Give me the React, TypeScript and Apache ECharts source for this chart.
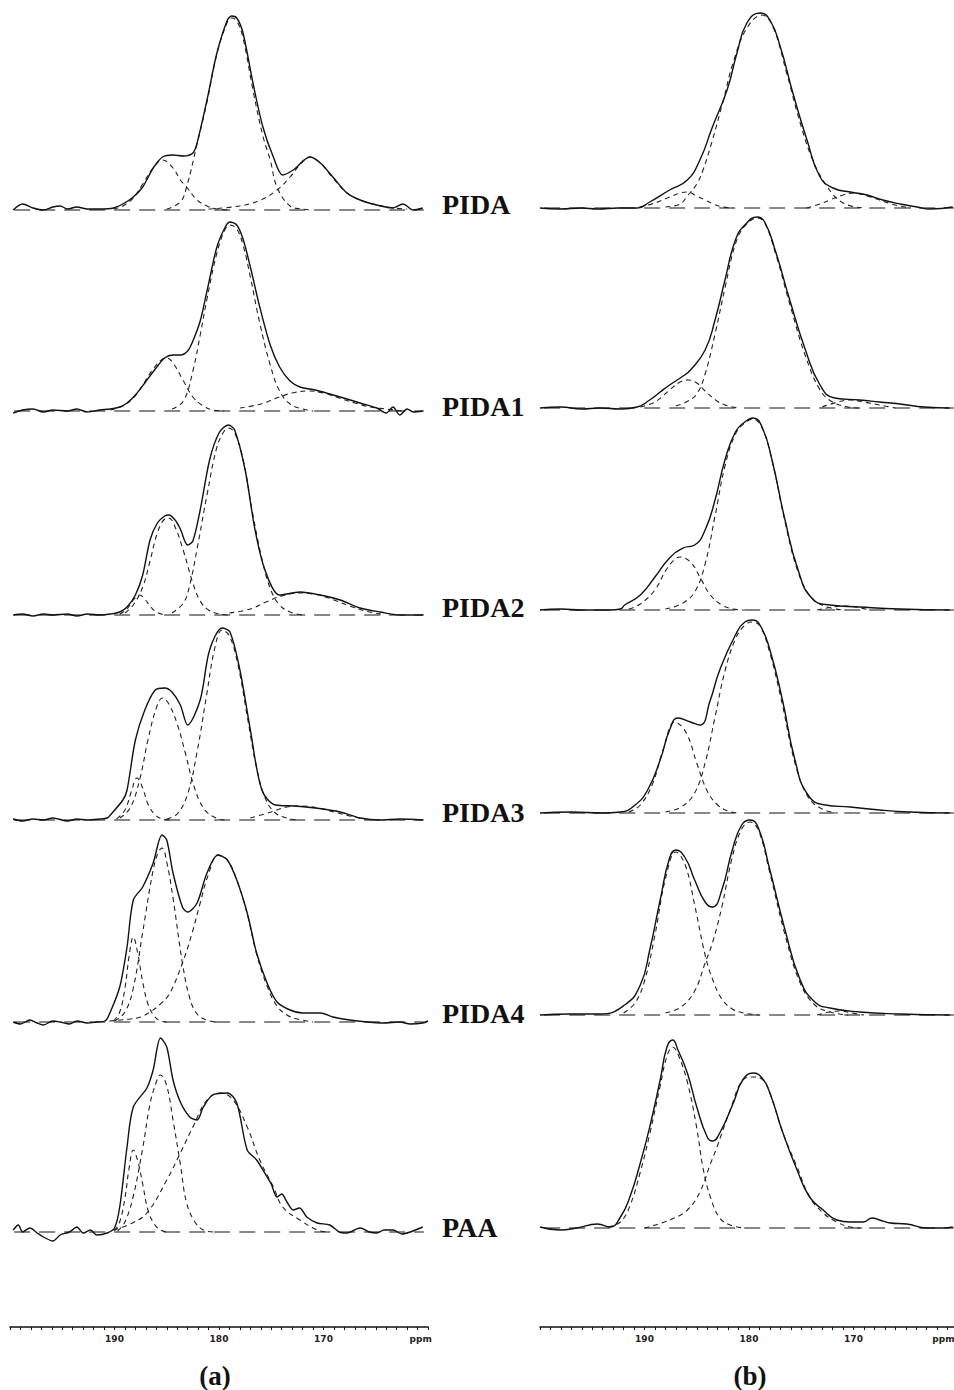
import React, { useEffect, useRef } from "react";
import * as echarts from "echarts";

// ---------- DATA: [ppm, intensity] ----------
const SAMPLE_NAMES = ["PIDA", "PIDA1", "PIDA2", "PIDA3", "PIDA4", "PAA"];
const PANEL_NAMES = ["(a)", "(b)"];
const RULER_LABELS = [190, 180, 170];
const BASELINE = [[199.6, 0], [160.4, 0]];

// ---- column (a) ----
const A_PIDA_EXP = [[199.7,0],[198.8,3],[197.8,1],[196.8,0],[195.9,1.5],[195.2,2],[194.5,0.5],[193.6,1.5],[192.6,0.5],[191.4,0.5],[190.1,1],[189.2,3],[188.2,6.5],[187.3,11.5],[186.3,21],[185.4,26.5],[184.4,27.5],[183.4,27],[182.5,28.5],[182.1,33.5],[181.15,55],[180.2,78.5],[179.2,95],[178.8,97],[178.3,96],[177.7,88.5],[176.75,63.5],[175.8,41.5],[174.8,26.5],[173.9,17.5],[172.9,20],[171.3,26.5],[170.3,23.5],[169.1,16.5],[167.75,8.5],[166.5,5],[164.9,2.5],[163.35,1],[162.4,3],[161.4,0],[160.5,1]];
const A_PIDA_F1 = [[190.1,0.5],[189.2,2],[188.2,6],[187.3,13],[186.3,21],[185.4,25],[184.4,21],[183.7,15],[183.1,11.5],[182.1,5],[181.15,2],[180.2,0.5],[179,0]];
const A_PIDA_F2 = [[185,0.5],[183.7,4],[183.1,11.5],[182.1,33],[181.15,54],[180.2,78],[179.2,94],[178.8,96],[178.3,94.5],[177.7,86],[176.75,60],[175.8,37],[175.1,25],[174.45,11.5],[173.2,2],[172,0.5],[171,0]];
const A_PIDA_F3 = [[181,0.5],[178,2],[176,5],[174.45,10],[173.2,16.5],[172.2,23],[171.3,26.5],[170.3,23.5],[169.1,16],[167.75,8.5],[166.5,5],[164.9,2.5],[163.35,1],[162,0.5]];

const A_PIDA1_EXP = [[199.7,-1],[198.8,0.5],[197.8,1],[196.8,-0.5],[195.9,0.5],[194.5,0],[193.6,1],[192.6,-0.5],[191.4,0.5],[190.4,1],[189.5,2],[188.8,4],[188.0,8],[187.1,14],[186.1,21],[185.2,26.5],[184.4,28],[183.7,28],[183.0,30],[182.5,35],[181.8,45],[181.15,60],[180.2,82],[179.4,92],[178.95,94.5],[178.3,93],[177.7,86],[177.0,72],[176.1,52],[175.1,33],[174.2,22],[173.2,15],[172.25,12],[170.8,10.5],[169.4,8.5],[167.75,6],[166.5,4],[164.9,1.5],[164.0,-1],[163.35,2],[162.7,-2],[162.0,1],[161.4,-0.5],[160.5,0]];
const A_PIDA1_F1 = [[190.4,0.5],[189.2,2.5],[188.2,6.5],[187.3,13],[186.3,21],[185.4,26],[185.0,26.5],[184.4,24],[183.4,15],[182.5,7],[181.5,2.5],[180.6,0.5],[179.5,0]];
const A_PIDA1_F2 = [[184.5,1],[183.4,5],[182.5,20],[181.8,38],[181.15,56],[180.2,79],[179.4,91],[178.95,93],[178.3,91],[177.7,83],[177.0,67],[176.1,44],[175.1,23],[174.2,10],[173.2,3.5],[172,1],[171,0]];
const A_PIDA1_F3 = [[178,1.5],[176,3.5],[174.5,6.5],[173,9],[171.5,10],[170,9],[168.5,6.5],[167,4],[165.5,2],[164,1],[162.5,0]];

const A_PIDA2_EXP = [[199.7,0],[198.8,0.5],[197.8,-0.5],[196.8,0.5],[195.9,0],[194.5,0.5],[193.6,-0.5],[192.6,0.5],[191.4,0],[190.4,0.5],[189.5,1.5],[188.8,4],[188.0,10],[187.3,20],[186.6,37.5],[185.9,46],[185.2,49.5],[184.8,50],[184.2,47.5],[183.7,43],[183.0,35],[182.5,37],[181.8,52.5],[180.9,77.5],[180.0,91],[179.1,95],[178.5,92.5],[177.5,72.5],[176.55,42.5],[175.6,22.5],[174.2,10],[172.25,11.5],[170.3,10],[168.4,7.5],[166.5,3.5],[164.6,1.5],[162.7,0],[160.5,0]];
const A_PIDA2_F0 = [[189.5,0.5],[188.8,3],[188.2,7.5],[187.6,10],[187.1,8],[186.6,4.5],[186.0,1.5],[185.2,0]];
const A_PIDA2_F1 = [[189.0,1],[188.2,5],[187.3,14],[186.6,27],[185.9,41],[185.2,48],[184.8,48.5],[184.2,44],[183.4,32],[182.5,16],[181.8,7],[181.0,2.5],[180,0.5],[179,0]];
const A_PIDA2_F2 = [[184.5,1],[183.4,6],[182.8,15],[182.1,33],[181.15,60],[180.2,84],[179.5,92],[179.1,93.5],[178.5,91],[177.7,78],[176.75,50],[175.8,26],[175.0,12],[174.2,5],[173.2,1.5],[172,0]];
const A_PIDA2_F3 = [[179,1],[177,3],[175.5,6.5],[174,9.5],[172.25,11],[170.5,10],[169,7.5],[167.5,4.5],[166,2],[164.5,0.5]];

const A_PIDA3_EXP = [[199.7,0.5],[198.8,-0.5],[197.8,0.5],[196.8,0],[195.9,1],[194.5,-0.5],[193.6,0.5],[192.6,0],[191.4,0.5],[190.7,1],[190.4,2.5],[189.2,10],[188.8,15],[188.0,40],[187.1,55],[186.1,65],[185.2,66],[184.5,64],[183.7,57.5],[183.0,47.5],[181.8,60],[180.9,85],[179.7,96],[178.95,94],[178.0,75],[177.0,45],[175.9,15],[174.6,7.5],[172.7,7],[170.8,6],[168.4,4],[166.5,1],[164.6,0],[162.7,0.5],[160.5,0]];
const A_PIDA3_F0 = [[189.8,0.5],[189.0,5],[188.4,14],[187.85,21],[187.3,16],[186.8,8],[186.1,2.5],[185.4,0.5],[184.5,0]];
const A_PIDA3_F1 = [[189.5,1],[188.5,6],[187.6,20],[186.8,40],[186.0,56],[185.4,61],[184.8,58],[184.0,48],[183.2,33],[182.4,17],[181.5,6],[180.5,1.5],[179.5,0]];
const A_PIDA3_F2 = [[185,0.5],[184,3],[183,13],[182.1,34],[181.2,62],[180.4,86],[179.7,95],[179.0,92],[178.2,78],[177.3,52],[176.4,26],[175.5,10],[174.6,3.5],[173.5,1],[172.5,0]];
const A_PIDA3_F3 = [[177,1],[175,4],[173.5,6.5],[172,7],[170.5,6],[169,4],[167.5,2],[166,0.5]];

const A_PIDA4_EXP = [[199.7,0],[199.0,-1],[198.1,1],[197.4,-0.5],[196.8,-1.5],[195.9,0.5],[195.2,0],[194.3,-1],[193.6,0.5],[192.6,-0.5],[191.7,0],[190.9,0.5],[190.4,5],[189.5,17.5],[188.8,37.5],[188.2,61],[187.3,67.5],[186.3,79.5],[185.45,93.5],[185.0,91],[184.4,74.5],[183.5,57.5],[183.0,55],[182.1,59.5],[181.15,74.5],[180.1,83.5],[179.2,81],[178.3,71],[177.3,54.5],[176.4,34.5],[175.4,19.5],[174.45,10],[173.2,6],[172.0,4.5],[170.3,4.5],[169.1,2.5],[167.5,1],[165.8,0],[164.3,-0.5],[162.7,0],[161.7,-1],[160.5,-0.5],[160.0,0.5]];
const A_PIDA4_F0 = [[190.1,0.5],[189.5,5],[189.0,17],[188.6,33],[188.2,42.5],[187.8,35],[187.3,20],[186.8,9],[186.2,3],[185.6,0.5],[185,0]];
const A_PIDA4_F1 = [[190.0,0.5],[189.0,5],[188.2,17],[187.3,45],[186.3,76],[185.8,85],[185.45,87],[185.0,80],[184.4,62],[183.5,29.5],[182.8,12],[182.1,4],[181.2,1],[180.3,0]];
const A_PIDA4_F2 = [[190.5,0.5],[188.5,1.5],[187.5,2.5],[186.6,5],[185.6,9],[184.7,14.5],[183.5,29.5],[182.6,44],[181.8,59.5],[181.0,74],[180.1,83.5],[179.2,81],[178.3,71],[177.3,54],[176.4,34],[175.4,18],[174.45,8],[173.5,3.5],[172.5,1.5],[171,0]];

const A_PAA_EXP = [[199.7,1],[199.2,3.5],[198.8,0],[198.1,2],[197.4,-0.5],[196.8,-2.5],[195.9,-4.5],[195.2,-1.5],[194.3,0],[193.6,2.5],[193.0,-0.5],[192.3,1],[191.7,-1.5],[190.7,-0.5],[190.0,2],[189.5,12.5],[188.8,42.5],[188.2,62.5],[186.9,72],[186.3,81],[185.6,97],[185.0,92.5],[184.4,76],[183.7,65],[182.8,57.5],[182.1,56],[181.5,62.5],[180.6,68.5],[179.2,69.5],[178.3,64.5],[177.3,41],[176.4,36],[175.4,27.5],[175.0,24],[174.45,17.5],[174.0,19],[173.5,15],[172.9,11],[172.3,12],[171.6,7.5],[170.6,4.5],[169.4,3.5],[168.5,0],[167.75,-0.5],[166.5,2],[165.6,0],[164.9,-0.5],[164.2,1],[163.35,1],[162.5,-1],[161.7,0],[160.5,2.5]];
const A_PAA_F0 = [[190.0,0.5],[189.5,5],[189.0,17],[188.6,32],[188.2,41],[187.8,36],[187.3,24],[186.8,11],[186.2,4],[185.6,1],[185.0,0]];
const A_PAA_F1 = [[189.7,0.5],[189.0,5],[188.2,18],[187.3,42],[186.6,64],[186.0,75],[185.6,78.5],[185.0,73],[184.4,56],[183.7,34],[183.1,14.5],[182.3,5],[181.5,1],[180.5,0]];
const A_PAA_F2 = [[190.1,1],[188.5,4],[186.9,9.5],[185.0,26],[183.7,39.5],[182.5,52.5],[181.15,66],[179.9,69.5],[178.65,66],[177.3,52.5],[176.1,36],[174.8,22.5],[173.9,12.5],[172.25,6],[170.6,1],[169.5,0]];

// ---- column (b) ----
const B_PIDA_EXP = [[200,0],[198.1,-0.5],[196,0],[194.5,-0.5],[192.5,0],[190.7,0],[189.5,3],[187.6,9],[185.9,14],[184.7,24],[183.5,40.5],[182.1,59],[181.15,77.5],[180.2,92.5],[178.95,97.5],[178.0,94],[177.0,80.5],[175.8,57.5],[174.45,34],[173.2,15.5],[171.95,10],[170.3,8],[168.7,6.5],[167.2,4],[165.55,2],[163.9,0.5],[162.7,-0.5],[160.5,0.5]];
const B_PIDA_F1 = [[190.5,0.5],[189,2.5],[187.6,5.5],[186.6,7.5],[185.9,8],[185.0,6],[184.2,4],[183.4,2],[182.5,0.5],[181.5,0]];
const B_PIDA_F2 = [[188,0.5],[186.6,2],[185.9,6],[185.0,12],[184.4,19],[183.5,34],[182.5,53],[181.5,73],[180.2,90],[178.75,96.5],[177.7,90.5],[176.4,67.5],[175.1,42.5],[173.9,24],[172.5,10.5],[171.0,2.5],[169,0]];
const B_PIDA_F3 = [[174.5,0],[173.2,2],[172.25,4],[171.0,6.5],[170.0,7.5],[168.7,6],[167.5,4],[166,1.5],[164.5,0]];

const B_PIDA1_EXP = [[200,0],[198,0.5],[196,-0.5],[194.3,0],[192.3,-0.5],[190.7,0.5],[189.5,4],[188.5,8],[187.6,11.5],[186.3,16],[185.6,19],[184.2,29],[183.25,44],[182.3,64],[181.3,84],[180.4,91.5],[179.2,95.5],[178.5,93],[177.5,79],[176.1,54],[174.6,29],[173.2,11.5],[171.8,5],[169.4,4],[167.5,3],[165.55,2],[163.2,0.5],[160.8,0]];
const B_PIDA1_F1 = [[190.4,0.5],[189.0,3],[187.6,9],[186.6,13],[185.8,14],[185.0,12.5],[184.2,8.5],[183.2,4],[182.3,1.5],[181,0]];
const B_PIDA1_F2 = [[187,1],[186,3],[185,7],[184.2,17],[183.25,37],[182.3,60],[181.3,82],[180.4,91],[179.2,95],[178.5,92.5],[177.5,78],[176.1,52],[174.6,26],[173.2,9],[172,3],[170.5,0.5],[169.5,0]];
const B_PIDA1_F3 = [[173,0.5],[171.5,3],[170.3,4],[169,3],[167.5,1.5],[166,0]];

const B_PIDA2_EXP = [[200,0],[198,0.5],[196,0],[194.3,0],[193.3,0],[192.3,0.5],[191.9,2.5],[190.4,7.5],[189.0,16.5],[187.6,26],[186.3,31],[185.2,32.5],[184.2,40],[183.25,55],[182.3,75],[181.3,89],[180.4,94],[179.6,96],[178.75,91.5],[177.8,75],[176.55,45],[175.3,20],[174.0,6],[172.25,2.5],[169.4,1.5],[165.55,0.5],[160.8,0]];
const B_PIDA2_F1 = [[191.5,0.5],[190.4,3],[189.0,10],[187.8,21],[186.6,26.5],[185.6,24],[184.7,16.5],[183.7,7.5],[182.6,2.5],[181.5,0.5],[180.5,0]];
const B_PIDA2_F2 = [[188,0.5],[186.5,3],[185.2,9],[184.2,23],[183.25,47],[182.3,72],[181.3,88],[180.4,93.5],[179.6,95.5],[178.75,91],[177.8,75],[176.55,44],[175.3,19],[174.0,6],[172.5,1.5],[171,0]];
const B_PIDA2_F3 = [[173.5,0],[172,1.5],[171,2],[169.8,1.5],[168.5,0]];

const B_PIDA3_EXP = [[200,0],[197,0.5],[194,0],[192.3,0.5],[190.9,4],[189.7,11.5],[188.5,26.5],[187.6,41.5],[186.8,47.5],[185.6,45.5],[184.7,44],[183.7,56.5],[182.8,71.5],[181.3,89],[180.4,95.5],[179.7,96.5],[178.95,94],[178.0,81.5],[176.8,56.5],[175.6,26.5],[174.35,9],[172.7,4],[170.3,3],[167.5,1.5],[164.6,0.5],[160.8,0]];
const B_PIDA3_F1 = [[191.5,0.5],[190.4,4],[189.2,15],[188.2,32],[187.1,45.5],[186.0,40],[185.0,25],[184.0,11],[183.0,4],[182,1],[181,0]];
const B_PIDA3_F2 = [[188,0.5],[186.5,3],[185.2,10],[184.2,25],[183.25,48],[182.3,71],[181.3,87],[180.4,94],[179.7,95.5],[178.95,93.5],[178.0,80],[176.8,54],[175.6,25],[174.35,8],[173,2],[171.5,0]];

const B_PIDA4_EXP = [[200,0],[197,0.5],[194.3,0.5],[191.9,5],[190.4,15],[189.5,32.5],[188.5,57.5],[187.6,78.5],[187.0,82.5],[186.1,78.5],[185.2,67.5],[184.2,56.5],[183.5,54],[182.6,62.5],[181.6,82.5],[180.7,95],[179.9,97.5],[179.1,93.5],[178.0,72.5],[176.55,42.5],[175.1,17.5],[173.7,6.5],[172.25,3.5],[169.4,1.5],[165.55,0.5],[160.8,0]];
const B_PIDA4_F1 = [[192,1],[190.9,6],[190.0,17],[189.0,40],[188.0,68],[187.0,81.5],[186.1,75],[185.2,55],[184.2,30],[183.5,18],[182.6,8],[181.6,3],[180.5,1],[179,0]];
const B_PIDA4_F2 = [[188,1],[186.5,4],[185.2,12],[184.2,26],[183.5,36],[182.6,54],[181.6,79],[180.7,93],[179.9,96.5],[179.1,92.5],[178.0,71],[176.55,40],[175.1,16],[173.7,5],[172.25,1.5],[170.5,0]];
const B_PIDA4_F3 = [[173.5,0],[172.3,1.5],[171.3,2],[170.2,1],[169,0]];

const B_PAA_EXP = [[200,0.5],[198.1,-1],[196.5,0],[194.5,2],[193.3,0.5],[192.3,5.5],[191.4,15.5],[190.4,32.5],[189.5,50.5],[188.5,74],[187.85,90.5],[187.3,94],[186.8,89],[185.9,77.5],[185.0,60.5],[184.0,45.5],[183.5,43.5],[182.8,47.5],[181.5,62.5],[180.6,74],[179.6,77.5],[178.75,75],[178.0,67.5],[176.75,47.5],[175.4,29],[174.2,15.5],[172.9,9],[171.6,4],[170.3,3],[169.1,3],[168.2,5],[167.5,4],[166.5,2.5],[164.9,2],[163.0,0],[161.4,0],[160.5,0.5]];
const B_PAA_F1 = [[193.5,0.5],[192.3,3],[191.4,11],[190.4,28],[189.5,47],[188.5,71],[187.85,86],[187.3,90.5],[186.8,87],[185.9,73],[185.0,50],[184.4,30],[183.7,15.5],[182.8,5],[181.8,1.5],[180.5,0]];
const B_PAA_F2 = [[190,0],[187.6,4],[185.9,9],[184.7,18],[183.7,32],[183.1,40],[181.8,59],[180.6,74],[179.6,75.5],[178.65,74],[178.0,67.5],[176.75,47.5],[175.4,30.5],[174.2,15.5],[172.9,7.5],[171.6,3],[170.3,0.5],[169,0]];

const A_SPECTRA = [
  { exp: A_PIDA_EXP, fits: [A_PIDA_F1, A_PIDA_F2, A_PIDA_F3] },
  { exp: A_PIDA1_EXP, fits: [A_PIDA1_F1, A_PIDA1_F2, A_PIDA1_F3] },
  { exp: A_PIDA2_EXP, fits: [A_PIDA2_F0, A_PIDA2_F1, A_PIDA2_F2, A_PIDA2_F3] },
  { exp: A_PIDA3_EXP, fits: [A_PIDA3_F0, A_PIDA3_F1, A_PIDA3_F2, A_PIDA3_F3] },
  { exp: A_PIDA4_EXP, fits: [A_PIDA4_F0, A_PIDA4_F1, A_PIDA4_F2] },
  { exp: A_PAA_EXP, fits: [A_PAA_F0, A_PAA_F1, A_PAA_F2] },
];
const B_SPECTRA = [
  { exp: B_PIDA_EXP, fits: [B_PIDA_F1, B_PIDA_F2, B_PIDA_F3] },
  { exp: B_PIDA1_EXP, fits: [B_PIDA1_F1, B_PIDA1_F2, B_PIDA1_F3] },
  { exp: B_PIDA2_EXP, fits: [B_PIDA2_F1, B_PIDA2_F2, B_PIDA2_F3] },
  { exp: B_PIDA3_EXP, fits: [B_PIDA3_F1, B_PIDA3_F2] },
  { exp: B_PIDA4_EXP, fits: [B_PIDA4_F1, B_PIDA4_F2, B_PIDA4_F3] },
  { exp: B_PAA_EXP, fits: [B_PAA_F1, B_PAA_F2] },
];

// ---------- LAYOUT ----------
const COLUMNS = [
  { left: 10, spectra: A_SPECTRA, baselines: [210, 411, 615, 820, 1022, 1232], title: { x: 215, y: 1376 }, smooth: 0.3, ppmAt: 160.7 },
  { left: 540, spectra: B_SPECTRA, baselines: [208, 408, 610, 813, 1015, 1228], title: { x: 750, y: 1376 }, smooth: 0.5, ppmAt: 161.4 },
];
const PLOT_W = 418;
const PX_PER_UNIT = 2;
const LABEL_X = 442;
const LABEL_Y = [204, 406, 607, 812, 1013, 1227];
const RULER_Y = 1327;
const INK = "#111";
const SERIF = "'Liberation Serif', 'Times New Roman', serif";

function buildOption() {
  const grid: any[] = [];
  const xAxis: any[] = [];
  const yAxis: any[] = [];
  const series: any[] = [];
  const graphic: any[] = [];

  const lineBase = {
    type: "line",
    showSymbol: false,
    symbol: "none",
    silent: true,
    smooth: 0.4,
    animation: false,
  };

  COLUMNS.forEach((col, ci) => {
    col.spectra.forEach((sp, i) => {
      const gi = grid.length;
      const base = col.baselines[i];
      grid.push({
        left: col.left,
        width: PLOT_W,
        top: base - 100 * PX_PER_UNIT,
        height: 110 * PX_PER_UNIT,
        outerBoundsMode: "none",
        containLabel: false,
      });
      xAxis.push({ gridIndex: gi, type: "value", min: 160, max: 200, inverse: true, show: false });
      yAxis.push({ gridIndex: gi, type: "value", min: -10, max: 100, show: false });
      series.push({
        ...lineBase,
        xAxisIndex: gi,
        yAxisIndex: gi,
        data: BASELINE,
        smooth: false,
        lineStyle: { color: INK, width: 1, type: [16, 9] },
      });
      sp.fits.forEach((f) => {
        series.push({
          ...lineBase,
          xAxisIndex: gi,
          yAxisIndex: gi,
          data: f,
          lineStyle: { color: "#222", width: 1.1, type: [5, 4] },
        });
      });
      series.push({
        ...lineBase,
        xAxisIndex: gi,
        yAxisIndex: gi,
        data: sp.exp,
        smooth: col.smooth,
        lineStyle: { color: INK, width: 1.4 },
      });
    });
    // ruler
    const gi = grid.length;
    grid.push({
      left: col.left,
      width: PLOT_W,
      top: RULER_Y - 20,
      height: 20,
      outerBoundsMode: "none",
      containLabel: false,
    });
    const ticks: number[] = [];
    for (let v = 160; v <= 200; v += 1) ticks.push(v);
    xAxis.push({
      gridIndex: gi,
      type: "value",
      min: 160,
      max: 200,
      inverse: true,
      position: "bottom",
      axisLine: { show: true, onZero: false, lineStyle: { color: INK, width: 1.6 } },
      axisTick: { show: true, customValues: ticks, length: 3, inside: false, lineStyle: { color: INK, width: 1 } },
      axisLabel: {
        show: true,
        customValues: [...RULER_LABELS, col.ppmAt],
        formatter: (v: number) => (v < 165 ? "ppm" : String(v)),
        fontSize: 9,
        fontWeight: "bold",
        fontFamily: "DejaVu Sans",
        color: "#222",
        margin: 7,
        hideOverlap: false,
      },
      splitLine: { show: false },
    });
    yAxis.push({ gridIndex: gi, type: "value", min: 0, max: 1, show: false });
    series.push({ type: "line", xAxisIndex: gi, yAxisIndex: gi, data: [], silent: true });

    graphic.push({
      type: "text",
      x: col.title.x,
      y: col.title.y,
      style: {
        text: PANEL_NAMES[ci],
        fontFamily: SERIF,
        fontWeight: "bold",
        fontSize: 27,
        fill: INK,
        align: "center",
        verticalAlign: "middle",
      },
    });
  });

  SAMPLE_NAMES.forEach((name, i) => {
    graphic.push({
      type: "text",
      x: LABEL_X,
      y: LABEL_Y[i],
      style: {
        text: name,
        fontFamily: SERIF,
        fontWeight: "bold",
        fontSize: 28,
        fill: INK,
        align: "left",
        verticalAlign: "middle",
      },
    });
  });

  return { animation: false, backgroundColor: "#fff", grid, xAxis, yAxis, series, graphic };
}

export default function App() {
  const ref = useRef<HTMLDivElement>(null);
  useEffect(() => {
    if (!ref.current) return;
    const chart = echarts.init(ref.current, null, { renderer: "svg" });
    chart.setOption(buildOption() as any);
    return () => chart.dispose();
  }, []);
  return (
    <div
      ref={ref}
      style={{ position: "absolute", left: 0, top: 0, width: 954, height: 1390, background: "#fff" }}
    />
  );
}
